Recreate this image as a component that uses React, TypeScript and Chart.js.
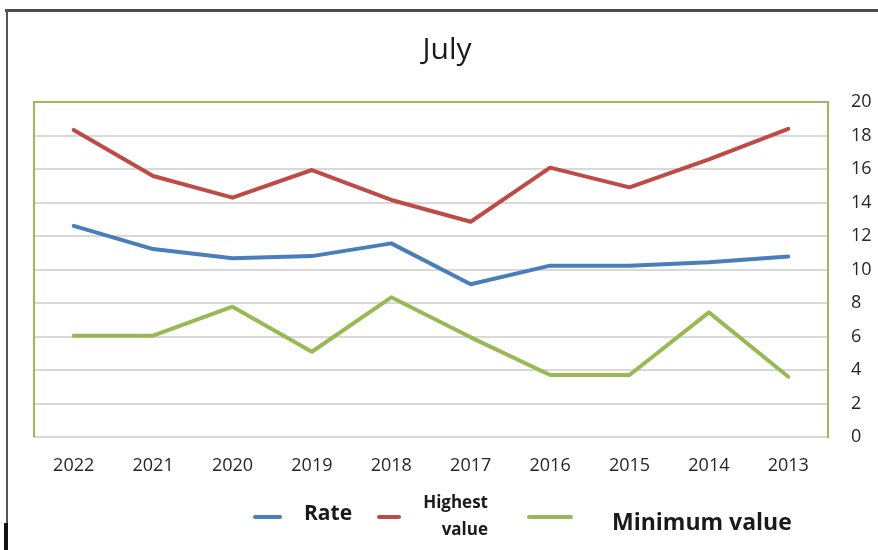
import { useEffect, useRef } from "react";
import { Chart, registerables } from "chart.js";

Chart.register(...registerables);

// Years run from newest to oldest along the category axis
const years = ["2022", "2021", "2020", "2019", "2018", "2017", "2016", "2015", "2014", "2013"];
const rateValues = [12.6, 11.22, 10.67, 10.8, 11.56, 9.12, 10.23, 10.23, 10.43, 10.77];
const highestValues = [18.33, 15.58, 14.29, 15.94, 14.15, 12.85, 16.08, 14.9, 16.58, 18.4];
const minimumValues = [6.05, 6.05, 7.78, 5.09, 8.34, 5.95, 3.7, 3.7, 7.44, 3.6];
const yMin = 0;
const yMax = 20;
const yStep = 2;

const BLUE = "#4a7ebb";
const RED = "#be4b48";
const GREEN = "#98b954";
const FONT = "'Open Sans', 'Noto Sans', sans-serif";

// Green frame on the left and top edges of the plotting area
const plotFrame = {
  id: "plotFrame",
  beforeDatasetsDraw(chart: any) {
    const { ctx, chartArea } = chart;
    const { left, top, right, bottom } = chartArea;
    ctx.save();
    ctx.strokeStyle = "#9bbb59";
    ctx.lineWidth = 2;
    ctx.beginPath();
    ctx.moveTo(left, bottom);
    ctx.lineTo(left, top);
    ctx.lineTo(right, top);
    ctx.stroke();
    ctx.restore();
  },
};

function Label(props: {
  text: string;
  baseline: number;
  size: number;
  weight?: number;
  left?: number;
  right?: number;
}) {
  const { text, baseline, size, weight = 400, left, right } = props;
  const style: any = {
    position: "absolute",
    top: baseline - 0.888 * size,
    fontFamily: FONT,
    fontSize: size,
    fontWeight: weight,
    lineHeight: `${size}px`,
    color: "#1a1a1a",
    whiteSpace: "nowrap",
  };
  if (left !== undefined) style.left = left;
  if (right !== undefined) {
    style.left = right - 300;
    style.width = 300;
    style.textAlign = "right";
  }
  return <div style={style}>{text}</div>;
}

function Swatch(props: { left: number; width: number; color: string }) {
  return (
    <div
      style={{
        position: "absolute",
        left: props.left,
        top: 515,
        width: props.width,
        height: 4,
        borderRadius: 2,
        background: props.color,
      }}
    />
  );
}

export default function App() {
  const canvasRef = useRef<HTMLCanvasElement | null>(null);

  useEffect(() => {
    const canvas = canvasRef.current;
    if (!canvas) return;
    const lineStyle = {
      borderWidth: 4,
      pointRadius: 0,
      tension: 0,
      borderJoinStyle: "round" as const,
      borderCapStyle: "round" as const,
    };
    const chart = new Chart(canvas, {
      type: "line",
      data: {
        labels: years,
        datasets: [
          { label: "Rate", data: rateValues, borderColor: BLUE, backgroundColor: BLUE, ...lineStyle },
          { label: "Highest value", data: highestValues, borderColor: RED, backgroundColor: RED, ...lineStyle },
          { label: "Minimum value", data: minimumValues, borderColor: GREEN, backgroundColor: GREEN, ...lineStyle },
        ],
      },
      options: {
        responsive: false,
        animation: false,
        devicePixelRatio: 1,
        layout: { padding: { top: 102, left: 34, right: 0, bottom: 0 } },
        plugins: {
          legend: { display: false },
          title: { display: false },
          tooltip: { enabled: false },
        },
        scales: {
          x: {
            type: "category",
            offset: true,
            grid: { display: false, drawTicks: false },
            border: { display: true, color: "#d9d9d9", width: 2 },
            ticks: {
              color: "#262626",
              padding: 18,
              maxRotation: 0,
              autoSkip: false,
              font: { family: FONT, size: 18 },
            },
            afterFit: (scale: any) => {
              scale.height = 113;
            },
          },
          y: {
            position: "right",
            min: yMin,
            max: yMax,
            grid: { color: "#d9d9d9", lineWidth: 2, drawTicks: false },
            border: { display: true, color: "#9bbb59", width: 2 },
            ticks: {
              stepSize: yStep,
              color: "#262626",
              padding: 23,
              font: { family: FONT, size: 18 },
            },
            afterFit: (scale: any) => {
              scale.width = 50;
            },
          },
        },
      },
      plugins: [plotFrame],
    });
    return () => chart.destroy();
  }, []);

  return (
    <div
      style={{
        position: "absolute",
        left: 0,
        top: 0,
        width: 878,
        height: 550,
        overflow: "hidden",
        background: "#ffffff",
      }}
    >
      <canvas ref={canvasRef} width={878} height={550} style={{ position: "absolute", left: 0, top: 0 }} />
      {/* outer chart frame */}
      <div style={{ position: "absolute", left: 5, top: 9, width: 873, height: 3, background: "#4d4d4d" }} />
      <div style={{ position: "absolute", left: 6, top: 9, width: 2, height: 541, background: "#555555" }} />
      <div style={{ position: "absolute", left: 4, top: 523, width: 4, height: 27, background: "#111111" }} />

      <div
        style={{
          position: "absolute",
          left: 347,
          width: 200,
          top: 60 - 0.888 * 30,
          textAlign: "center",
          fontFamily: FONT,
          fontSize: 30,
          lineHeight: "30px",
          color: "#1a1a1a",
        }}
      >
        July
      </div>

      <Swatch left={253} width={29} color={BLUE} />
      <Label text="Rate" baseline={521} size={21} weight={700} left={304} />
      <Swatch left={377} width={24} color={RED} />
      <Label text="Highest" baseline={508} size={17} weight={700} right={488} />
      <Label text="value" baseline={535} size={17} weight={700} right={488} />
      <Swatch left={527} width={46} color={GREEN} />
      <Label text="Minimum value" baseline={530} size={23} weight={700} left={612} />
    </div>
  );
}
